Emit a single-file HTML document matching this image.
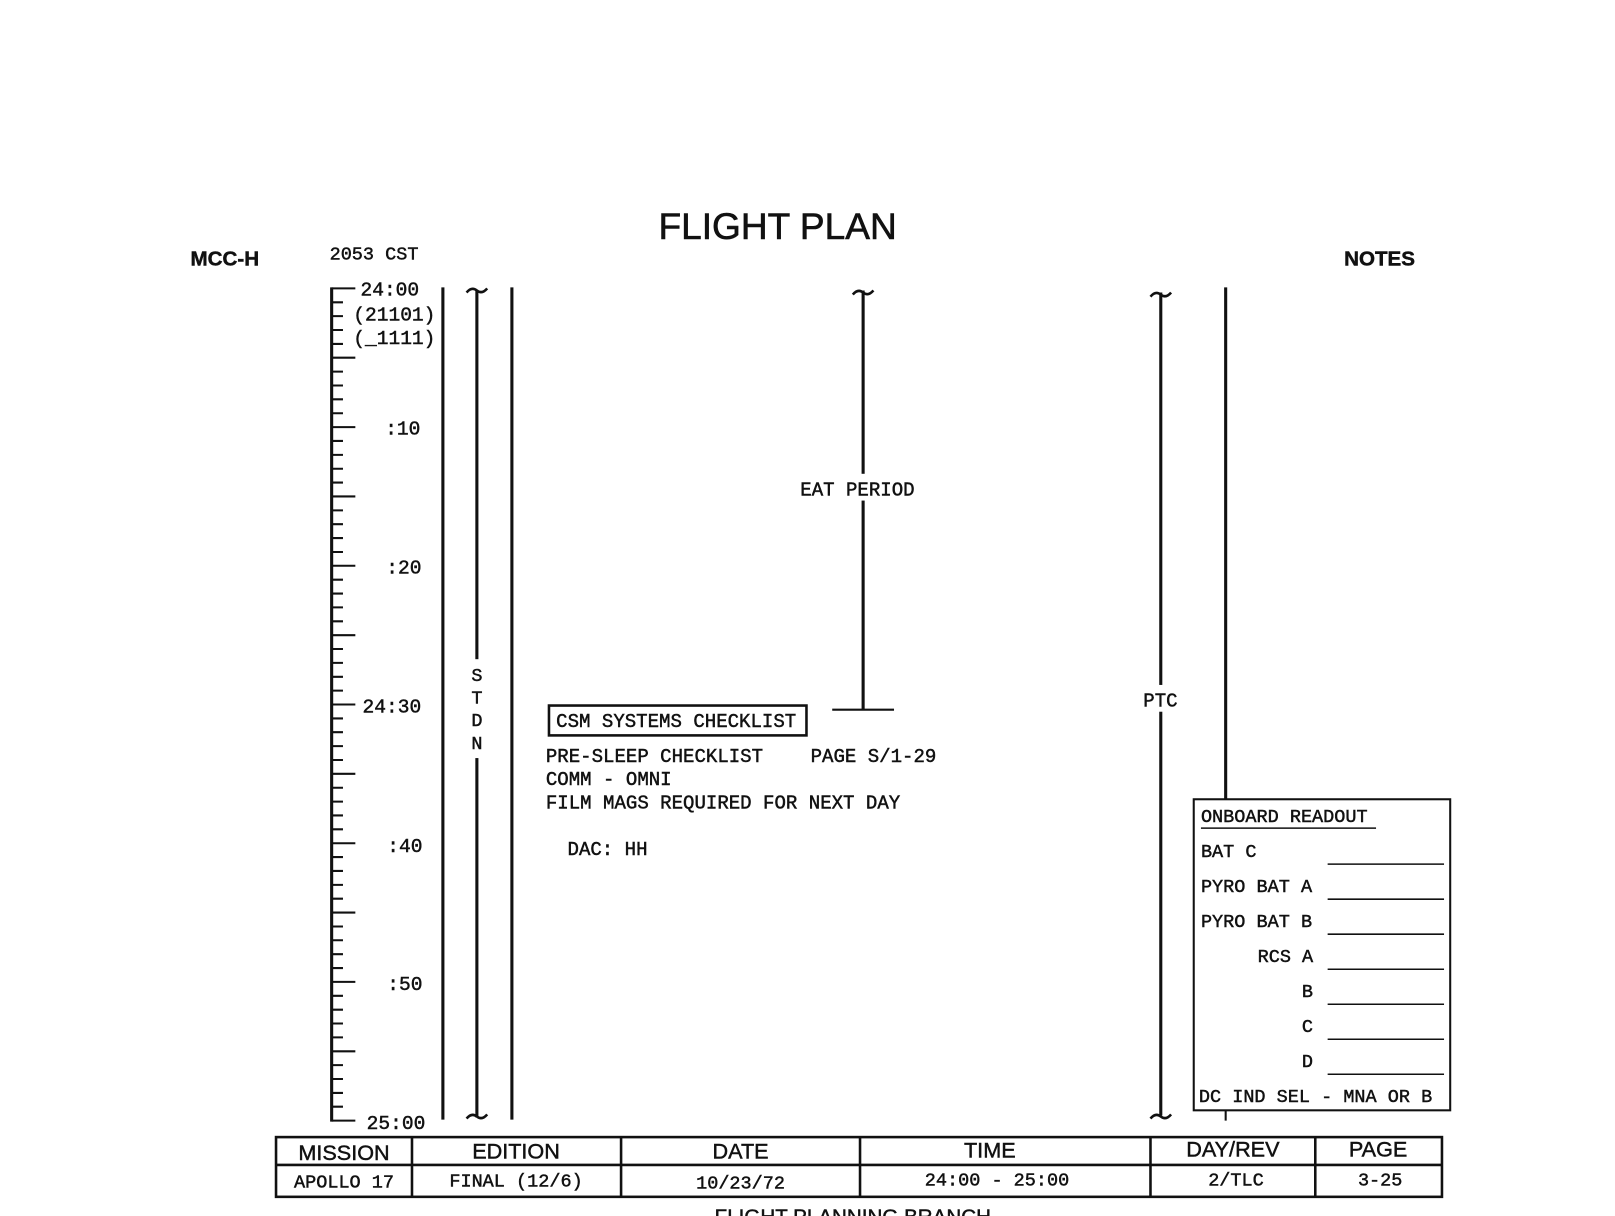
<!DOCTYPE html>
<html><head><meta charset="utf-8"><style>
html,body{margin:0;padding:0;background:#fff;}
svg{display:block}
text{font-family:"Liberation Mono",monospace;fill:#111;stroke:#111;stroke-width:0.45;}
.s{font-family:"Liberation Sans",sans-serif;}
</style></head><body>
<svg width="1615" height="1216" viewBox="0 0 1568 1180.6" xmlns="http://www.w3.org/2000/svg">
<rect width="1568" height="1181" fill="#fff"/>
<text x="755" y="232" class="s" font-size="36" text-anchor="middle" style="stroke-width:0.6">FLIGHT PLAN</text>
<text x="185" y="258" class="s" font-size="20" font-weight="bold">MCC-H</text>
<text x="320" y="252" font-size="18">2053 CST</text>
<text x="1305" y="258" class="s" font-size="20" font-weight="bold">NOTES</text>

<path stroke="#111" stroke-width="2" fill="none" d="
M322 280 h23 M322 293.5 h11 M322 306.9 h11 M322 320.4 h11 M322 333.9 h11 M322 347.3 h23
M322 360.8 h11 M322 374.3 h11 M322 387.7 h11 M322 401.2 h11 M322 414.7 h23
M322 428.1 h11 M322 441.6 h11 M322 455.1 h11 M322 468.5 h11 M322 482 h23
M322 495.5 h11 M322 508.9 h11 M322 522.4 h11 M322 535.9 h11 M322 549.3 h23
M322 562.8 h11 M322 576.3 h11 M322 589.7 h11 M322 603.2 h11 M322 616.7 h23
M322 630.1 h11 M322 643.6 h11 M322 657.1 h11 M322 670.5 h11 M322 684 h23
M322 697.5 h11 M322 710.9 h11 M322 724.4 h11 M322 737.9 h11 M322 751.3 h23
M322 764.8 h11 M322 778.3 h11 M322 791.7 h11 M322 805.2 h11 M322 818.7 h23
M322 832.1 h11 M322 845.6 h11 M322 859.1 h11 M322 872.5 h11 M322 886 h23
M322 899.5 h11 M322 912.9 h11 M322 926.4 h11 M322 939.9 h11 M322 953.3 h23
M322 966.8 h11 M322 980.3 h11 M322 993.7 h11 M322 1007.2 h11 M322 1020.7 h23
M322 1034.1 h11 M322 1047.6 h11 M322 1061.1 h11 M322 1074.5 h11 M322 1088 h23"/>
<line x1="322" y1="279" x2="322" y2="1089" stroke="#111" stroke-width="3"/>
<g font-size="19">
<text x="350" y="287">24:00</text>
<text x="343" y="311">(21101)</text>
<text x="343" y="334">(_1111)</text>
<text x="374" y="422">:10</text>
<text x="375" y="557">:20</text>
<text x="352" y="692">24:30</text>
<text x="376" y="827">:40</text>
<text x="376" y="961">:50</text>
<text x="356" y="1096">25:00</text>
</g>

<g stroke="#111" stroke-width="3" fill="none">
<line x1="430" y1="279" x2="430" y2="1087"/>
<line x1="463" y1="282" x2="463" y2="1085"/>
<line x1="497" y1="279" x2="497" y2="1087"/>
<line x1="838" y1="282" x2="838" y2="689"/>
<line x1="808" y1="689" x2="868" y2="689" stroke-width="2"/>
<line x1="1127" y1="284" x2="1127" y2="1083"/>
<line x1="1190" y1="279" x2="1190" y2="776"/>
<line x1="1190" y1="1078" x2="1190" y2="1088" stroke-width="2"/>
<path d="M453 284 q5 -6 10 -2 q5 4 10 -2" stroke-width="2.5"/>
<path d="M453 1086 q5 -6 10 -2 q5 4 10 -2" stroke-width="2.5"/>
<path d="M828 286 q5 -6 10 -2 q5 4 10 -2" stroke-width="2.5"/>
<path d="M1117 288 q5 -6 10 -2 q5 4 10 -2" stroke-width="2.5"/>
<path d="M1117 1086 q5 -6 10 -2 q5 4 10 -2" stroke-width="2.5"/>
</g>
<rect x="456" y="640" width="14" height="96" fill="#fff"/>
<g font-size="18" text-anchor="middle">
<text x="463" y="661">S</text><text x="463" y="683">T</text><text x="463" y="705">D</text><text x="463" y="727">N</text>
</g>
<rect x="774" y="460" width="118" height="26" fill="#fff"/>
<text x="777" y="481" font-size="18.5">EAT PERIOD</text>
<rect x="1106" y="665" width="40" height="26" fill="#fff"/>
<text x="1110" y="686" font-size="18.5">PTC</text>

<rect x="533" y="685" width="250" height="29" fill="none" stroke="#111" stroke-width="2.5"/>
<g font-size="18.5">
<text x="540" y="706">CSM SYSTEMS CHECKLIST</text>
<text x="530" y="740">PRE-SLEEP CHECKLIST</text>
<text x="787" y="740">PAGE S/1-29</text>
<text x="530" y="762">COMM - OMNI</text>
<text x="530" y="785">FILM MAGS REQUIRED FOR NEXT DAY</text>
<text x="551" y="830">DAC: HH</text>
</g>

<rect x="1159" y="776" width="249" height="302" fill="none" stroke="#111" stroke-width="2"/>
<g font-size="18">
<text x="1166" y="798">ONBOARD READOUT</text>
<line x1="1166" y1="804" x2="1336" y2="804" stroke="#111" stroke-width="1.5"/>
<text x="1166" y="832">BAT C</text>
<text x="1166" y="866">PYRO BAT A</text>
<text x="1166" y="900">PYRO BAT B</text>
<text x="1221" y="934">RCS A</text>
<text x="1264" y="968">B</text>
<text x="1264" y="1002">C</text>
<text x="1264" y="1036">D</text>
<text x="1164" y="1070">DC IND SEL - MNA OR B</text>
</g>
<g stroke="#111" stroke-width="1.5">
<line x1="1289" y1="839" x2="1402" y2="839"/>
<line x1="1289" y1="873" x2="1402" y2="873"/>
<line x1="1289" y1="907" x2="1402" y2="907"/>
<line x1="1289" y1="941" x2="1402" y2="941"/>
<line x1="1289" y1="975" x2="1402" y2="975"/>
<line x1="1289" y1="1009" x2="1402" y2="1009"/>
<line x1="1289" y1="1043" x2="1402" y2="1043"/>
</g>

<g stroke="#111" stroke-width="2.5" fill="none">
<rect x="268" y="1104" width="1132" height="58"/>
<line x1="268" y1="1131" x2="1400" y2="1131"/>
<line x1="400" y1="1104" x2="400" y2="1162"/>
<line x1="603" y1="1104" x2="603" y2="1162"/>
<line x1="835" y1="1104" x2="835" y2="1162"/>
<line x1="1117" y1="1104" x2="1117" y2="1162"/>
<line x1="1277" y1="1104" x2="1277" y2="1162"/>
</g>
<g font-size="21" text-anchor="middle" style="stroke-width:0.7">
<text x="334" y="1126" class="s">MISSION</text>
<text x="501" y="1125" class="s">EDITION</text>
<text x="719" y="1125" class="s">DATE</text>
<text x="961" y="1124" class="s">TIME</text>
<text x="1197" y="1123" class="s">DAY/REV</text>
<text x="1338" y="1123" class="s">PAGE</text>
</g>
<g font-size="18" text-anchor="middle">
<text x="334" y="1153">APOLLO 17</text>
<text x="501" y="1152">FINAL (12/6)</text>
<text x="719" y="1154">10/23/72</text>
<text x="968" y="1151">24:00 - 25:00</text>
<text x="1200" y="1151">2/TLC</text>
<text x="1340" y="1151">3-25</text>
</g>
<text x="828" y="1188" class="s" font-size="20" text-anchor="middle">FLIGHT PLANNING BRANCH</text>
</svg>
</body></html>
